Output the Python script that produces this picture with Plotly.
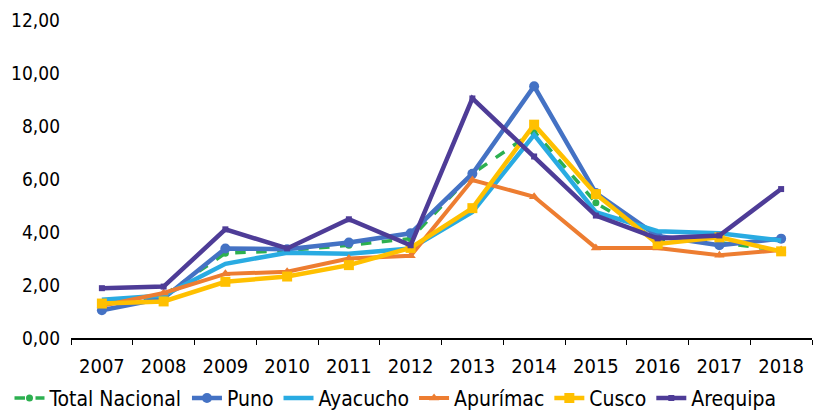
import plotly.graph_objects as go

anios = ["2007", "2008", "2009", "2010", "2011", "2012",
         "2013", "2014", "2015", "2016", "2017", "2018"]

total_nacional = [1.30, 1.60, 3.20, 3.30, 3.50, 3.75, 6.20, 7.80, 5.10, 3.70, 3.60, 3.30]
puno = [1.05, 1.50, 3.38, 3.35, 3.60, 3.95, 6.20, 9.50, 5.47, 3.85, 3.50, 3.75]
ayacucho = [1.44, 1.60, 2.80, 3.22, 3.18, 3.38, 4.75, 7.67, 4.75, 4.03, 3.95, 3.68]
apurimac = [1.22, 1.70, 2.42, 2.50, 3.00, 3.10, 5.96, 5.33, 3.40, 3.40, 3.12, 3.32]
cusco = [1.30, 1.38, 2.12, 2.32, 2.75, 3.40, 4.90, 8.05, 5.43, 3.55, 3.80, 3.27]
arequipa = [1.88, 1.94, 4.10, 3.38, 4.48, 3.50, 9.04, 6.85, 4.62, 3.76, 3.87, 5.62]

series = [
    ("Total Nacional", total_nacional, "#2DB050", "dash", "circle", 7, 3.5),
    ("Puno", puno, "#4472C4", "solid", "circle", 10, 4.5),
    ("Ayacucho", ayacucho, "#29ABE2", "solid", None, 0, 4.5),
    ("Apurímac", apurimac, "#ED7D31", "solid", "triangle-up", 9, 4),
    ("Cusco", cusco, "#FFC000", "solid", "square", 10, 4.5),
    ("Arequipa", arequipa, "#4E3C97", "solid", "square", 6, 4.5),
]

fig = go.Figure()
for nombre, valores, color, dash, simbolo, tam, ancho in series:
    modo = "lines+markers" if simbolo else "lines"
    fig.add_trace(go.Scatter(
        x=anios, y=valores, name=nombre, mode=modo,
        line=dict(color=color, width=ancho, dash=dash),
        marker=dict(symbol=simbolo or "circle", size=tam, color=color),
    ))

fuente = "DejaVu Sans Condensed, Liberation Sans Narrow, sans-serif"

# la pagina tiene 8px de margen, asi que la figura es un poco mas chica que la ventana
fig.update_layout(
    width=822, height=407,
    margin=dict(l=63, r=18, t=12, b=77, autoexpand=False),
    plot_bgcolor="white", paper_bgcolor="white",
    separators=",.",
    font=dict(family=fuente, size=19, color="#000000"),
    showlegend=True,
    legend=dict(orientation="h", x=-0.083, y=-0.254, xanchor="left", yanchor="bottom",
                font=dict(size=21), tracegroupgap=0, bgcolor="rgba(0,0,0,0)"),
    xaxis=dict(type="category", showgrid=False, showline=True, linecolor="#000000",
               linewidth=1.5, ticks="outside", tickson="boundaries", ticklen=5,
               tickcolor="#000000", range=[-0.5, 11.5], ticklabelstandoff=9,
               tickfont=dict(size=20), automargin=False),
    yaxis=dict(range=[0, 12], dtick=2, tickformat=".2f", showgrid=False,
               zeroline=False, showline=False, ticks="", ticklabelstandoff=10,
               automargin=False),
)

fig.write_html("out.html")
